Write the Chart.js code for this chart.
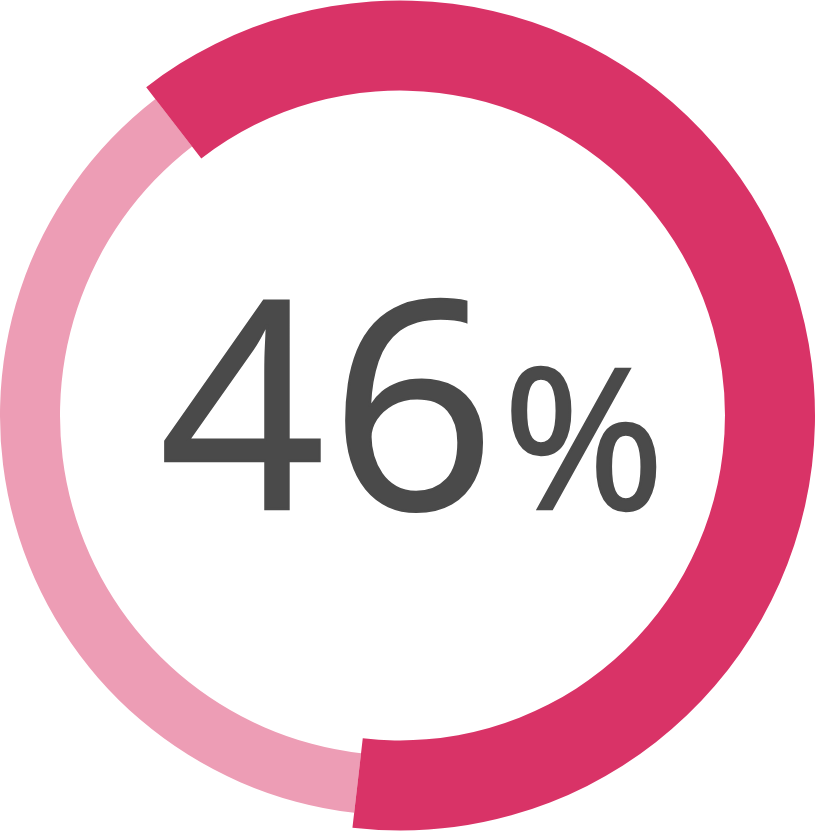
<!DOCTYPE html>
<html>
<head>
<meta charset="utf-8">
<script src="https://cdn.jsdelivr.net/npm/chart.js@4"></script>
<style>
  html, body { margin: 0; padding: 0; background: #ffffff; }
  #wrap { position: relative; width: 815px; height: 831px; overflow: hidden; }
  #wrap canvas { position: absolute; left: 0; top: 0; }
  .layer { position: absolute; left: 0; top: 0; width: 815px; height: 831px; }
  #label {
    position: absolute; left: 412px; top: 252px; transform: translateX(-50%);
    white-space: nowrap; color: #4a4a4a; font-family: "Open Sans", sans-serif; font-weight: 400;
    -webkit-text-stroke: 2.5px #4a4a4a;
    line-height: 1; display: flex; align-items: baseline;
  }
  #label .num { font-size: 290px; letter-spacing: 5px; }
  #label .pct { font-size: 196px; margin-left: 2px; }
</style>
</head>
<body>
<div id="wrap">
  <div class="layer"><canvas id="ring_light"></canvas></div>
  <div class="layer"><canvas id="ring_dark"></canvas></div>
  <div id="label"><span class="num">46</span><span class="pct">%</span></div>
</div>
<script>
// two parts of the ring (share of the full circle)
const labels = ['Highlighted', 'Remaining'];
const shares = [62.3, 37.7];
const startAngle = -37.7;
const darkColors = ['#d93367', 'rgba(0,0,0,0)'];
const lightColors = ['rgba(0,0,0,0)', '#ed9db5'];

function makeRing(id, colors, radius, cutout) {
    const ctx = document.getElementById(id).getContext('2d');
    return new Chart(ctx, {
        type: 'doughnut',
        data: {
            labels: labels,
            datasets: [{
                data: shares,
                backgroundColor: colors,
                borderWidth: 0
            }]
        },
        options: {
            responsive: true,
            maintainAspectRatio: false,
            animation: false,
            rotation: startAngle,
            radius: radius,
            cutout: cutout,
            layout: { padding: { left: 0, right: 15, top: 0, bottom: 0 } },
            plugins: {
                legend: { display: false },
                tooltip: { enabled: false }
            }
        }
    });
}

// light band is thinner and sits in the middle of the dark band
makeRing('ring_light', lightColors, 400, '85%');
makeRing('ring_dark', darkColors, 415, '78.3%');
</script>
</body>
</html>
